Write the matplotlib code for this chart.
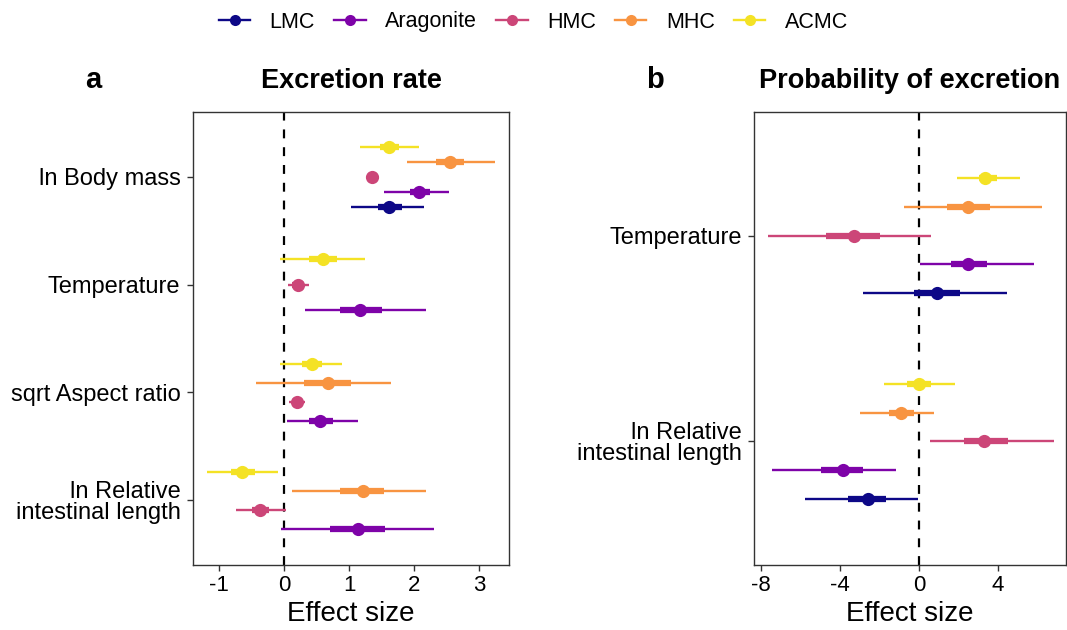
import numpy as np
import matplotlib.pyplot as plt

plt.rcParams['font.family'] = ['Liberation Sans', 'DejaVu Sans']

minerals = ["LMC", "Aragonite", "HMC", "MHC", "ACMC"]
colors = ["#0D0887", "#7E03A8", "#CC4678", "#F89441", "#F4E225"]

nan = np.nan

# panel a: excretion rate
cats_a = ["ln Body mass", "Temperature", "sqrt Aspect ratio", "ln Relative\nintestinal length"]
est_a = {
    "LMC":       [1.62, nan, nan, nan],
    "Aragonite": [2.08, 1.17, 0.56, 1.13],
    "HMC":       [1.35, 0.22, 0.195, -0.37],
    "MHC":       [2.55, nan, 0.67, 1.21],
    "ACMC":      [1.615, 0.595, 0.43, -0.64],
}
lo95_a = {
    "LMC":       [1.03, nan, nan, nan],
    "Aragonite": [1.53, 0.32, 0.04, -0.04],
    "HMC":       [1.26, 0.06, 0.07, -0.74],
    "MHC":       [1.89, nan, -0.43, 0.12],
    "ACMC":      [1.17, -0.06, -0.06, -1.18],
}
hi95_a = {
    "LMC":       [2.16, nan, nan, nan],
    "Aragonite": [2.54, 2.18, 1.13, 2.31],
    "HMC":       [1.46, 0.39, 0.32, 0.03],
    "MHC":       [3.25, nan, 1.65, 2.18],
    "ACMC":      [2.07, 1.25, 0.89, -0.09],
}
lo50_a = {
    "LMC":       [1.44, nan, nan, nan],
    "Aragonite": [1.93, 0.86, 0.39, 0.70],
    "HMC":       [1.30, 0.13, 0.12, -0.49],
    "MHC":       [2.34, nan, 0.31, 0.86],
    "ACMC":      [1.48, 0.39, 0.27, -0.82],
}
hi50_a = {
    "LMC":       [1.81, nan, nan, nan],
    "Aragonite": [2.24, 1.50, 0.75, 1.55],
    "HMC":       [1.42, 0.30, 0.27, -0.23],
    "MHC":       [2.77, nan, 1.03, 1.53],
    "ACMC":      [1.77, 0.82, 0.58, -0.45],
}

# panel b: probability of excretion
cats_b = ["Temperature", "ln Relative\nintestinal length"]
est_b = {
    "LMC":       [0.89, -2.57],
    "Aragonite": [2.47, -3.83],
    "HMC":       [-3.31, 3.31],
    "MHC":       [2.47, -0.91],
    "ACMC":      [3.36, 0.0],
}
lo95_b = {
    "LMC":       [-2.86, -5.80],
    "Aragonite": [0.05, -7.45],
    "HMC":       [-7.65, 0.57],
    "MHC":       [-0.77, -2.99],
    "ACMC":      [1.95, -1.78],
}
hi95_b = {
    "LMC":       [4.45, -0.05],
    "Aragonite": [5.83, -1.16],
    "HMC":       [0.59, 6.86],
    "MHC":       [6.22, 0.77],
    "ACMC":      [5.14, 1.80],
}
lo50_b = {
    "LMC":       [-0.27, -3.58],
    "Aragonite": [1.63, -4.97],
    "HMC":       [-4.71, 2.27],
    "MHC":       [1.41, -1.53],
    "ACMC":      [3.06, -0.59],
}
hi50_b = {
    "LMC":       [2.08, -1.65],
    "Aragonite": [3.45, -2.82],
    "HMC":       [-1.98, 4.49],
    "MHC":       [3.60, -0.27],
    "ACMC":      [3.93, 0.59],
}

dodge = 0.7


def forest(ax, cats, est, lo95, hi95, lo50, hi50):
    for i in range(len(cats)):
        present = [m for m in minerals if not np.isnan(est[m][i])]
        k = len(present)
        for j, m in enumerate(present):
            y = i + dodge / k * ((k - 1) / 2 - j)
            c = colors[minerals.index(m)]
            ax.plot([lo95[m][i], hi95[m][i]], [y, y], color=c, lw=1.7,
                    solid_capstyle='butt', zorder=3)
            ax.plot([lo50[m][i], hi50[m][i]], [y, y], color=c, lw=4.5,
                    solid_capstyle='butt', zorder=4)
            ax.plot(est[m][i], y, 'o', color=c, ms=9.5, mec='none', zorder=5)
    ax.axvline(0, color='black', ls=(0, (4, 4)), lw=1.6, zorder=2)
    ax.set_yticks(range(len(cats)))
    ax.set_yticklabels(cats, fontsize=17, multialignment='right',
                       linespacing=0.95)
    ax.set_ylim(len(cats) - 0.4, -0.6)
    ax.set_xlabel("Effect size", fontsize=20, labelpad=4)
    for s in ax.spines.values():
        s.set_color('#333333')
        s.set_linewidth(1.0)
    ax.tick_params(axis='both', length=4, width=1, color='#333333',
                   labelcolor='black', pad=3)
    ax.tick_params(axis='y', pad=5)
    ax.tick_params(axis='x', labelsize=16)


fig = plt.figure(figsize=(10.67, 6.3), dpi=100)
ax1 = fig.add_axes([193 / 1067, 1 - 565 / 630, 316 / 1067, 453 / 630])
ax2 = fig.add_axes([754 / 1067, 1 - 565 / 630, 312 / 1067, 453 / 630])

forest(ax1, cats_a, est_a, lo95_a, hi95_a, lo50_a, hi50_a)
ax1.set_xlim(-1.40, 3.46)
ax1.set_xticks([-1, 0, 1, 2, 3])
ax1.set_xticklabels(["-1", "0", "1", "2", "3"])

forest(ax2, cats_b, est_b, lo95_b, hi95_b, lo50_b, hi50_b)
ax2.set_xlim(-8.36, 7.45)
ax2.set_xticks([-8, -4, 0, 4])
ax2.set_xticklabels(["-8", "-4", "0", "4"])

ax1.set_title("Excretion rate", fontsize=19.5, fontweight='bold', pad=17)
ax2.set_title("Probability of excretion", fontsize=19.5, fontweight='bold', pad=17)
fig.text(93 / 1067, 1 - 80 / 630, "a", fontsize=21, fontweight='bold',
         ha='center', va='center')
fig.text(655 / 1067, 1 - 80 / 630, "b", fontsize=21, fontweight='bold',
         ha='center', va='center')

handles = [plt.Line2D([], [], color=c, lw=1.7, marker='o', ms=8, mec='none')
           for c in colors]
fig.legend(handles, minerals, loc='center', bbox_to_anchor=(0.5, 1 - 22 / 630),
           ncol=5, frameon=False, fontsize=15.5, handlelength=1.45,
           columnspacing=0.9, handletextpad=0.9)

fig.savefig("out.png", dpi=100)
